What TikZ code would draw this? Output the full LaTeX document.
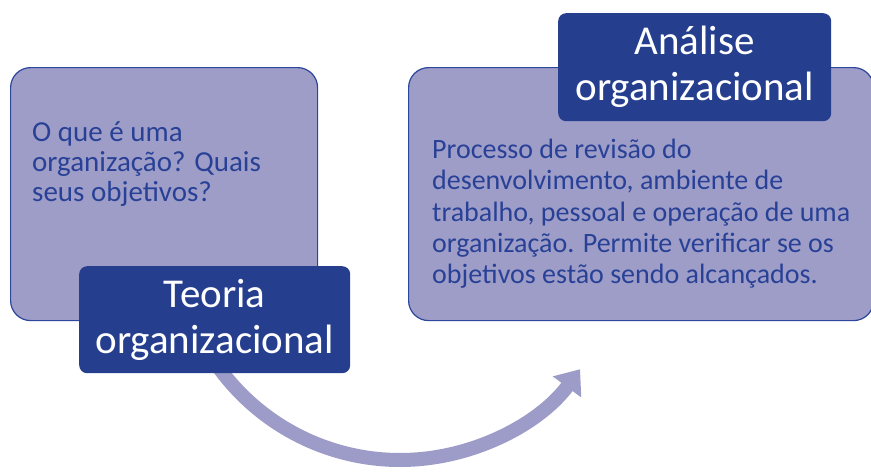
\documentclass[tikz,border=0pt]{standalone}
\usepackage{fontspec}
\setmainfont{Carlito}
\usetikzlibrary{arrows.meta}
\definecolor{lightfill}{RGB}{158,157,200}
\definecolor{boxborder}{RGB}{44,70,155}
\definecolor{darkfill}{RGB}{37,62,142}
\definecolor{bodytext}{RGB}{40,65,150}
\definecolor{arrowcol}{RGB}{157,155,199}
\tikzset{
  lightbox/.style={draw=boxborder, line width=1.2pt, fill=lightfill, rounded corners=20pt, inner sep=0pt, anchor=north west},
  darkbox/.style={fill=darkfill, rounded corners=8pt, inner sep=0pt, anchor=north west},
  bodytxt/.style={text=bodytext, align=left, inner sep=0pt, anchor=north west},
  titletxt/.style={text=white, align=center, inner sep=0pt, font=\fontsize{41}{46}\selectfont},
  bigarrow/.style={draw=arrowcol, line width=14pt, -{Triangle[width=34pt,length=22pt]}}
}
\begin{document}
\begin{tikzpicture}[x=1pt,y=-1pt]
\useasboundingbox (0,0) rectangle (871,474);
% arrow
\coordinate (arcc) at (400,236);
\draw[bigarrow] (arcc) ++(145:224) arc[start angle=145, end angle=36.5, radius=224];
% left
\node[lightbox, minimum width=307pt, minimum height=253pt] (lbox) at (10,67) {};
\node[bodytxt, font=\fontsize{29}{30}\selectfont] (ltext) at (32,121) {O que é uma\\organização? Quais\\seus objetivos?};
\node[darkbox, minimum width=271pt, minimum height=107pt] (tbox) at (79,266) {};
\node[titletxt] (ttext) at (tbox.center) {Teoria\\organizacional};
% right
\node[lightbox, minimum width=465pt, minimum height=253pt] (rbox) at (408,67) {};
\node[bodytxt, font=\fontsize{28}{31.3}\selectfont] (rtext) at (432,139) {Processo de revisão do\\desenvolvimento, ambiente de\\trabalho, pessoal e operação de uma\\organização. Permite verificar se os\\objetivos estão sendo alcançados.};
\node[darkbox, minimum width=273pt, minimum height=108pt] (abox) at (558,13) {};
\node[titletxt] (atext) at (abox.center) {Análise\\organizacional};
\end{tikzpicture}
\end{document}
